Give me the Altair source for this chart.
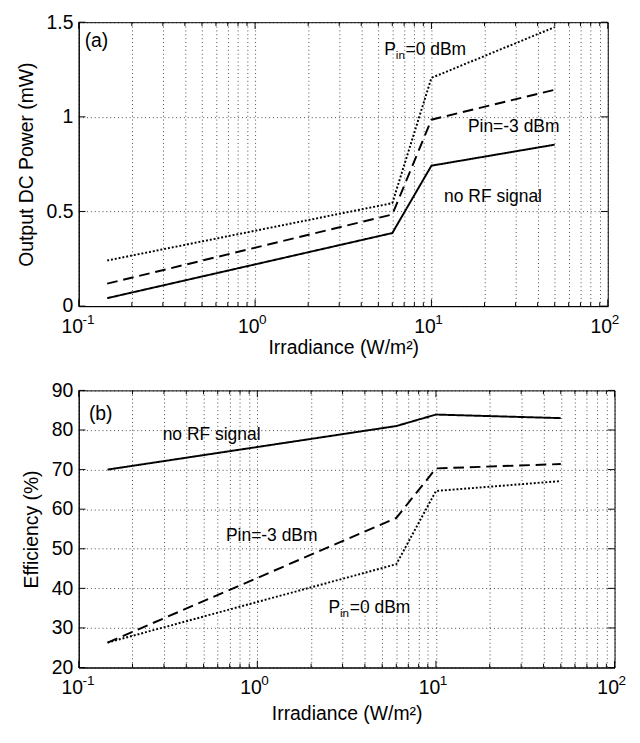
import altair as alt
import pandas as pd

# ---- data ----
irradiance = [0.145, 6.0, 10.0, 50.0]
series_names = ["no RF signal", "Pin=-3 dBm", "Pin=0 dBm"]

power_norf = [0.042, 0.386, 0.742, 0.853]
power_m3 = [0.119, 0.484, 0.985, 1.143]
power_0 = [0.241, 0.544, 1.206, 1.474]

eff_norf = [70.0, 81.0, 83.9, 83.0]
eff_m3 = [26.3, 57.8, 70.3, 71.4]
eff_0 = [26.3, 46.1, 64.6, 67.1]

x_major = [0.1, 1, 10, 100]
x_exponents = ["-1", "0", "1", "2"]
x_minor = [m * 10 ** k for k in (-1, 0, 1) for m in range(2, 10)]
x_ticks = sorted(x_major + x_minor)
y_ticks_a = [0, 0.5, 1, 1.5]
y_ticks_b = [20, 30, 40, 50, 60, 70, 80, 90]

FONT = "Liberation Sans"
W_A, H_A = 546, 293
W_B, H_B = 553, 286

x_label_expr = ("datum.value == 0.1 || datum.value == 1 || datum.value == 10 || "
                "datum.value == 100 ? '10' : ''")


def long_df(vals):
    rows = []
    for name, ys in zip(series_names, vals):
        for i, (x, y) in enumerate(zip(irradiance, ys)):
            rows.append({"x": x, "y": y, "series": name, "order": i})
    return pd.DataFrame(rows)


dash_scale = alt.Scale(domain=series_names, range=[[1, 0], [11, 6], [2, 2]])


def panel(vals, y_dom, y_ticks, y_fmt, y_title, W, H, notes, tag_xy, title_pad):
    df = long_df(vals)
    xs = alt.Scale(type="log", domain=[0.1, 100], nice=False)
    ys = alt.Scale(domain=y_dom, nice=False, zero=False)
    x_axis = alt.Axis(values=x_ticks, labelExpr=x_label_expr, title="Irradiance (W/m\u00b2)",
                      labelOverlap=False, labelFlush=False, ticks=False, grid=True,
                      labelAlign="right", labelOffset=4, labelPadding=11,
                      titlePadding=title_pad)
    y_axis = alt.Axis(values=y_ticks, format=y_fmt, title=y_title, ticks=False, grid=True,
                      labelPadding=6, titlePadding=10)

    lines = alt.Chart(df).mark_line(color="black", strokeWidth=2).encode(
        x=alt.X("x:Q", scale=xs, axis=x_axis),
        y=alt.Y("y:Q", scale=ys, axis=y_axis),
        strokeDash=alt.StrokeDash("series:N", scale=dash_scale, legend=None),
        detail="series:N",
        order="order:Q",
    )

    # inside tick marks (MATLAB style)
    xmaj = pd.DataFrame({"x": x_major, "e": x_exponents})
    xmin = pd.DataFrame({"x": x_minor})
    yt = pd.DataFrame({"y": y_ticks})
    tk = []
    for d, L in ((xmaj, 7), (xmin, 4)):
        tk.append(alt.Chart(d).mark_rule(color="black", strokeWidth=1).encode(
            x=alt.X("x:Q", scale=xs), y=alt.value(H), y2=alt.value(H - L)))
        tk.append(alt.Chart(d).mark_rule(color="black", strokeWidth=1).encode(
            x=alt.X("x:Q", scale=xs), y=alt.value(0), y2=alt.value(L)))
    tk.append(alt.Chart(yt).mark_rule(color="black", strokeWidth=1).encode(
        y=alt.Y("y:Q", scale=ys), x=alt.value(0), x2=alt.value(7)))
    tk.append(alt.Chart(yt).mark_rule(color="black", strokeWidth=1).encode(
        y=alt.Y("y:Q", scale=ys), x=alt.value(W - 7), x2=alt.value(W)))
    # exponents of the x tick labels
    tk.append(alt.Chart(xmaj).mark_text(align="left", baseline="top", font=FONT, fontSize=14,
                                        dx=4, color="black").encode(
        x=alt.X("x:Q", scale=xs), y=alt.value(H + 7), text="e:N"))

    texts = []
    for (tx, ty, label, sub) in notes:
        d = pd.DataFrame({"x": [tx], "y": [ty]})
        enc = dict(x=alt.X("x:Q", scale=xs), y=alt.Y("y:Q", scale=ys))
        if sub:
            texts.append(alt.Chart(d).mark_text(text="P", align="left", baseline="middle",
                                                font=FONT, fontSize=18, color="black").encode(**enc))
            texts.append(alt.Chart(d).mark_text(text="in", align="left", baseline="middle",
                                                font=FONT, fontSize=12, dx=12, dy=5,
                                                color="black").encode(**enc))
            texts.append(alt.Chart(d).mark_text(text=label, align="left", baseline="middle",
                                                font=FONT, fontSize=18, dx=22,
                                                color="black").encode(**enc))
        else:
            texts.append(alt.Chart(d).mark_text(text=label, align="left", baseline="middle",
                                                font=FONT, fontSize=18, color="black").encode(**enc))
    tag = pd.DataFrame({"x": [tag_xy[0]], "y": [tag_xy[1]]})
    texts.append(alt.Chart(tag).mark_text(text=tag_xy[2], align="left", baseline="middle",
                                          font=FONT, fontSize=20, color="black").encode(
        x=alt.X("x:Q", scale=xs), y=alt.Y("y:Q", scale=ys)))

    return alt.layer(lines, *tk, *texts).properties(width=W, height=H)


notes_a = [
    (5.4, 1.35, "=0 dBm", True),
    (16.1, 0.946, "Pin=-3 dBm", False),
    (11.8, 0.578, "no RF signal", False),
]
notes_b = [
    (0.295, 78.8, "no RF signal", False),
    (0.667, 53.3, "Pin=-3 dBm", False),
    (2.5, 34.9, "=0 dBm", True),
]

top = panel([power_norf, power_m3, power_0], [0, 1.5], y_ticks_a, ".1~f", "Output DC Power (mW)",
            W_A, H_A, notes_a, (0.108, 1.40, "(a)"), 2)
bottom = panel([eff_norf, eff_m3, eff_0], [20, 90], y_ticks_b, "d", "Efficiency (%)",
               W_B, H_B, notes_b, (0.114, 84.0, "(b)"), 7)

chart = alt.vconcat(top, bottom, spacing=22).configure_view(
    stroke="black", strokeWidth=1
).configure_axis(
    labelFont=FONT, titleFont=FONT, labelFontSize=20, titleFontSize=20,
    titleFontWeight="normal", labelColor="black", titleColor="black",
    domainColor="black", gridColor="black", gridDash=[1, 3], gridOpacity=0.75,
    gridWidth=1,
).properties(background="white", padding={"left": 8, "top": -8, "right": 5, "bottom": 0})

chart.save("out.html", embed_options={"renderer": "svg", "actions": False})
